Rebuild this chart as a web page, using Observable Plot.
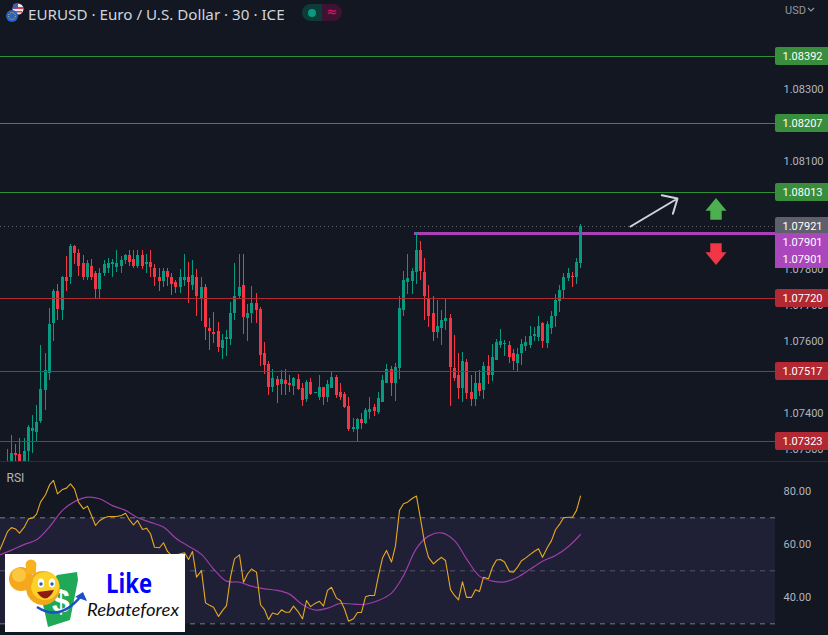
<!DOCTYPE html>
<html><head><meta charset="utf-8">
<style>
html,body{margin:0;padding:0;background:#131722;overflow:hidden;width:828px;height:635px}
#wrap{position:relative;width:828px;height:635px;overflow:hidden}
svg{display:block}
#title{position:absolute;left:28px;top:4px;font:15.2px "Noto Sans",sans-serif;color:#d1d4dc;white-space:nowrap}
#usd{position:absolute;left:785px;top:4px;font:11px Roboto,sans-serif;color:#9598a1}
#pill{position:absolute;left:302px;top:4px;width:40px;height:17px;border-radius:9px;overflow:hidden;display:flex}
#pill div{width:20px;height:17px;text-align:center;position:relative}
#icons,#logo,#chev{position:absolute}
</style>
<script src="https://cdn.jsdelivr.net/npm/d3@7"></script>
<script src="https://cdn.jsdelivr.net/npm/@observablehq/plot@0.6"></script>
</head><body><div id="wrap"></div>
<script>
const openPts=[107247,107261,107289,107287,107261,107295,107351,107348,107378,107465,
107512,107651,107740,107687,107779,107779,107863,107846,107818,107777,
107810,107788,107746,107788,107804,107813,107807,107810,107824,107838,
107827,107810,107838,107813,107821,107802,107777,107768,107796,107777,
107765,107749,107771,107777,107757,107779,107720,107751,107637,107626,
107629,107582,107607,107607,107679,107726,107757,107665,107679,107707,
107690,107568,107537,107473,107495,107481,107493,107484,107476,107495,
107470,107440,107487,107456,107445,107473,107445,107470,107501,107459,
107454,107420,107356,107356,107384,107373,107403,107417,107403,107431,
107484,107523,107484,107526,107687,107765,107768,107793,107852,107793,
107718,107679,107626,107637,107657,107665,107526,107506,107470,107543,
107459,107440,107484,107465,107532,107506,107548,107590,107593,107590,
107568,107540,107568,107587,107590,107615,107612,107651,107596,107637,
107671,107712,107743,107774,107782,107777,107818];
const highPts=[107300,107339,107314,107330,107330,107367,107395,107423,107590,107568,
107693,107746,107760,107782,107835,107871,107866,107857,107838,107824,
107827,107796,107802,107824,107832,107827,107852,107835,107843,107852,
107852,107854,107852,107843,107852,107813,107802,107802,107804,107788,
107771,107799,107841,107821,107824,107799,107777,107760,107665,107682,
107654,107621,107632,107710,107818,107843,107843,107704,107754,107735,
107696,107598,107545,107523,107504,107520,107523,107506,107501,107509,
107484,107493,107498,107459,107506,107473,107493,107518,107506,107484,
107459,107445,107387,107387,107401,107415,107445,107426,107459,107506,
107537,107532,107540,107724,107796,107843,107802,107902,107877,107832,
107757,107726,107715,107687,107718,107674,107618,107568,107571,107551,
107506,107518,107520,107543,107562,107593,107607,107635,107604,107601,
107579,107582,107607,107615,107643,107640,107671,107654,107657,107685,
107732,107757,107790,107804,107793,107832,107924];
const lowPts=[107242,107251,107256,107251,107251,107256,107289,107320,107373,107409,
107493,107601,107660,107660,107740,107760,107813,107782,107771,107771,
107771,107720,107720,107782,107790,107779,107793,107788,107813,107810,
107802,107802,107799,107788,107779,107754,107740,107749,107754,107729,
107735,107735,107754,107707,107743,107671,107657,107604,107576,107596,
107571,107551,107559,107590,107660,107721,107621,107601,107651,107651,
107532,107509,107451,107459,107429,107451,107451,107459,107451,107465,
107420,107431,107451,107456,107437,107423,107431,107470,107442,107437,
107415,107351,107348,107323,107356,107370,107384,107392,107398,107431,
107484,107448,107434,107495,107671,107732,107732,107760,107771,107660,
107640,107601,107609,107590,107632,107420,107490,107440,107431,107440,
107420,107420,107448,107440,107481,107490,107548,107582,107559,107540,
107520,107518,107534,107573,107582,107601,107601,107582,107582,107621,
107640,107682,107721,107768,107751,107760,107802];
const closePts=[107261,107289,107284,107261,107295,107362,107359,107376,107468,107520,
107648,107740,107690,107777,107768,107863,107846,107810,107777,107816,
107779,107746,107790,107813,107818,107821,107818,107824,107838,107821,
107810,107838,107810,107821,107807,107779,107768,107796,107777,107760,
107749,107777,107779,107765,107785,107726,107751,107640,107629,107621,
107584,107604,107612,107679,107724,107749,107668,107679,107707,107687,
107562,107534,107473,107498,107479,107495,107481,107479,107498,107468,
107437,107487,107454,107459,107473,107445,107481,107501,107451,107445,
107417,107356,107362,107384,107373,107409,107412,107406,107442,107493,
107523,107484,107529,107693,107771,107774,107796,107852,107796,107726,
107671,107626,107643,107660,107665,107529,107498,107470,107545,107456,
107440,107484,107462,107532,107506,107557,107598,107601,107596,107557,
107545,107565,107593,107598,107615,107621,107643,107601,107648,107671,
107715,107743,107779,107790,107779,107821,107921];
// RSI: one reading per bar, the first is bar -1
const rsiValues=[56.8,60.2,64.8,66.3,65.8,64.2,66.6,69.6,69.9,71.3,75.9,78.7,82.4,84.1,79.0,80.7,81.2,82.8,80.9,75.9,
73.4,74.4,70.9,67.1,68.9,70.0,70.5,70.5,70.5,70.9,71.7,69.2,67.3,69.0,65.6,66.1,64.0,58.9,58.7,60.6,
57.3,55.8,56.0,56.4,56.8,54.3,57.3,47.6,50.1,37.9,37.0,36.3,32.8,35.0,36.9,47.6,54.5,56.0,45.7,48.8,
50.7,49.5,37.2,35.4,31.6,34.1,33.5,35.3,34.4,34.4,36.7,34.4,31.9,38.8,36.5,37.8,38.5,36.7,42.6,43.8,
39.7,38.8,35.6,31.0,31.9,34.3,34.3,40.2,40.7,40.7,48.2,54.8,57.7,53.3,59.5,72.8,75.3,75.9,77.4,78.2,
69.6,60.8,55.1,52.6,54.0,55.1,53.9,42.9,40.7,39.0,45.9,40.0,40.0,42.9,42.2,47.6,47.0,51.4,54.1,54.3,
53.3,49.7,49.5,51.4,53.8,54.8,56.3,57.4,58.3,55.1,58.9,61.4,65.5,67.5,70.0,70.2,70.2,72.8,78.2];
const rsiMaBars=[-1,2,5,8,11,14,17,20,23,26,29,32,35,38,41,44,47,50,53,56,59,62,65,68,71,74,77,80,83,86,89,92,95,98,101,104,107,110,113,116,119,122,125,128,131,134,137];
const rsiMaValues=[55.8,57.8,60.0,61.7,66.6,72.8,76.1,77.8,77.2,74.6,72.8,70.1,68.3,66.5,62.4,59.3,56.2,50.7,46.1,45.7,44.2,43.2,42.6,41.2,37.2,35.2,35.9,37.7,37.4,37.4,38.8,41.6,48.2,58.5,63.1,64.3,61.4,54.5,48.0,46.1,45.8,47.6,50.7,53.6,55.8,59.2,63.7];
const priceTicks=[1.083,1.081,1.078,1.077,1.076,1.074,1.073];
const rsiTicks=[80,60,40];
const bandLevels=[70,50,30];
const levelPrices=[1.08392,1.08207,1.08013,1.0772,1.07517,1.07323];
const levelColors=["#2e8f33","#2e8f33","#2e8f33","#b02a33","#a03038","#a03038"];
const labelText=["1.08392","1.08207","1.08013","1.07921","1.07720","1.07517","1.07323"];
const labelPos=[1.08392,1.08207,1.08013,1.07921,1.0772,1.07517,1.07323];
const labelFill=["#388e3c","#388e3c","#388e3c","#5d606b","#b22833","#b22833","#b22833"];
const purpleText=["1.07901","1.07901"];
const purplePos=[1.07876,1.07827];
const lastPrice=1.07921, resistance=1.07901, resistanceStartBar=97.6;
const axisStartBar=183.16;
const GREEN="#089981",RED="#f23645";
const FONT='Roboto,sans-serif';

const bars=openPts.map((o,i)=>({bar:i+1,open:o/1e5,high:highPts[i]/1e5,low:lowPts[i]/1e5,close:closePts[i]/1e5,color:closePts[i]>=o?GREEN:RED}));
const rsi=rsiValues.map((v,i)=>({bar:i-1,v}));
const rsiMa=rsiMaValues.map((v,i)=>({bar:rsiMaBars[i],v}));
const labels=labelText.map((t,i)=>({t,y:labelPos[i],fill:labelFill[i]}));
const purple=purpleText.map((t,i)=>({t,y:purplePos[i]}));
const LH=0.00025;
const xScale={domain:[-0.581,195.72],round:true,axis:null};

function blockArrow(bar,price,dir,color){
  return (index,{x,y})=>{
    const s=dir;
    const d=`M0,0L${10.5},${12.7*s}L5.7,${12.7*s}L5.7,${21.7*s}L-5.7,${21.7*s}L-5.7,${12.7*s}L-10.5,${12.7*s}Z`;
    return d3.create("svg:path").attr("d",d).attr("fill",color).attr("transform",`translate(${x(bar)},${y(price)})`).node();
  };
}

const pricePlot=Plot.plot({
  width:828,height:462,margin:0,
  style:{background:"#131722",fontFamily:FONT,fontSize:"11px"},
  x:xScale,
  y:{domain:[1.072644,1.085472],axis:null,round:true},
  color:{type:"identity"},
  marks:[
    Plot.axisY(priceTicks,{anchor:"right",tickSize:0,tickPadding:0,dx:-45,tickFormat:d=>d.toFixed(5),fill:"#b2b5be",label:null,fontSize:11}),
    Plot.ruleY([lastPrice],{x1:-0.581,x2:axisStartBar,stroke:"#5d606b",strokeDasharray:"1,3"}),
    Plot.ruleY([resistance],{x1:resistanceStartBar,x2:axisStartBar,stroke:"#ab3fb8",strokeWidth:3}),
    Plot.ruleX(bars,{x:"bar",y1:"low",y2:"high",stroke:"color",strokeWidth:1,clip:true}),
    Plot.ruleX(bars,{x:"bar",y1:"open",y2:"close",stroke:"color",strokeWidth:3,clip:true}),
    Plot.ruleY(levelPrices,{x1:-0.581,x2:axisStartBar,stroke:(d,i)=>levelColors[i]}),
    Plot.ruleY([1.072644],{stroke:"#2a2e39",dy:-1}),
    Plot.arrow([{a:148.8,b:1.07919,c:159.9,d:1.07997}],{x1:"a",y1:"b",x2:"c",y2:"d",stroke:"#d1d4dc",strokeWidth:2,headLength:12,headAngle:85}),
    blockArrow(169.05,1.079967,1,"#4caf50"),
    blockArrow(169.05,1.078101,-1,"#f23645"),
    Plot.rect(labels,{x1:axisStartBar,x2:200,y1:d=>d.y-LH,y2:d=>d.y+LH,fill:"fill",rx:2}),
    Plot.rect(purple,{x1:axisStartBar,x2:200,y1:d=>d.y-LH,y2:d=>d.y+LH,fill:"#ab47bc"}),
    Plot.text(labels,{text:"t",y:"y",frameAnchor:"right",dx:-6,textAnchor:"end",fill:"#fff",fontSize:11}),
    Plot.text(purple,{text:"t",y:"y",frameAnchor:"right",dx:-6,textAnchor:"end",fill:"#fff",fontSize:11})
  ]
});

const rsiPlot=Plot.plot({
  width:828,height:173,margin:0,
  style:{background:"#131722",fontFamily:FONT,fontSize:"11px"},
  x:xScale,
  y:{domain:[25.6,90.87],axis:null},
  marks:[
    Plot.rect([{a:70,b:30}],{x1:-0.581,x2:axisStartBar,y1:"a",y2:"b",fill:"#1f1f36"}),
    Plot.ruleY(bandLevels,{x1:-0.581,x2:axisStartBar,stroke:"#787b86",strokeDasharray:"5,5",strokeOpacity:(d)=>d===50?0.6:1}),
    Plot.axisY(rsiTicks,{anchor:"right",tickSize:0,tickPadding:0,dx:-45,tickFormat:d=>d.toFixed(2),fill:"#b2b5be",label:null,fontSize:11}),
    Plot.line(rsiMa,{x:"bar",y:"v",stroke:"#9c3fa8",strokeWidth:1.2,curve:"catmull-rom",clip:true}),
    Plot.line(rsi,{x:"bar",y:"v",stroke:"#e6a923",strokeWidth:1.1,clip:true}),
    Plot.text(["RSI"],{frameAnchor:"top-left",dx:6,dy:11,fill:"#b2b5be",fontSize:12,letterSpacing:1})
  ]
});

const wrap=document.getElementById("wrap");
wrap.append(pricePlot,rsiPlot);
wrap.insertAdjacentHTML("beforeend",`
<svg id="icons" style="left:4px;top:2px" width="22" height="22" viewBox="0 0 22 22">
 <circle cx="14" cy="7" r="5.5" fill="#e8e8ee"/><path d="M9,5h10v2H9zM9,9h9v1.5H9z" fill="#e53945"/><path d="M9,2.5a5.5,5.5 0 0 1 5,-1v5h-5z" fill="#3f5fb5"/>
 <circle cx="8" cy="14" r="6" fill="#2962c4"/><circle cx="8" cy="14" r="3.4" fill="none" stroke="#f4c430" stroke-width="1" stroke-dasharray="1,1.3"/>
</svg>
<div id="title">EURUSD · Euro / U.S. Dollar · 30 · ICE</div>
<div id="pill"><div style="background:#0d3b38"><span style="position:absolute;left:6px;top:4.5px;width:8px;height:8px;border-radius:50%;background:#089981"></span></div>
<div style="background:#3d1232;color:#c2185b;font:bold 13px/16px 'DejaVu Sans'">≈</div></div>
<div id="usd">USD</div>
<svg id="chev" style="left:807px;top:7px" width="8" height="6"><path d="M1,1L4,4L7,1" fill="none" stroke="#9598a1" stroke-width="1.1"/></svg>
<svg id="logo" style="left:5px;top:554px" width="180" height="78" viewBox="5 554 180 78">
 <rect x="5" y="554" width="180" height="78" fill="#fff"/>
 <path d="M57,575L77,572L78,580L70,620L48,627L42,600Z" fill="#1fa855"/>
 <text x="61" y="612" font-family="Liberation Sans" font-weight="bold" font-size="32" fill="#fff" text-anchor="middle">$</text>
 <circle cx="43" cy="588" r="17" fill="#f0a81a"/>
 <circle cx="45" cy="586" r="14" fill="#fcd12a"/>
 <circle cx="21" cy="579" r="12" fill="#f5a81c"/>
 <circle cx="19" cy="575" r="7" fill="#fbc641"/>
 <circle cx="31" cy="565" r="5.5" fill="#f9b21e"/>
 <path d="M26,566h10v8h-10z" fill="#f9b21e"/>
 <ellipse cx="41" cy="583" rx="3.2" ry="4.5" fill="#fff"/><ellipse cx="52" cy="583" rx="3.2" ry="4.5" fill="#fff"/>
 <circle cx="41" cy="584" r="1.7" fill="#2a5ca8"/><circle cx="52" cy="584" r="1.7" fill="#2a5ca8"/>
 <path d="M37,592Q46,606 54,590Z" fill="#8c1c13"/>
 <path d="M37,607Q60,622 81,596" fill="none" stroke="#1d4fc4" stroke-width="2.5"/>
 <path d="M75,597L83,592L87,601Z" fill="#1d4fc4"/>
 <text x="106" y="593" font-family="Open Sans" font-weight="bold" font-size="26" fill="#0000ff" textLength="46" lengthAdjust="spacingAndGlyphs">Like</text>
 <text x="87" y="616" font-family="Lato" font-style="italic" font-size="17" fill="#111" textLength="92" lengthAdjust="spacingAndGlyphs">Rebateforex</text>
</svg>`);
</script></body></html>
